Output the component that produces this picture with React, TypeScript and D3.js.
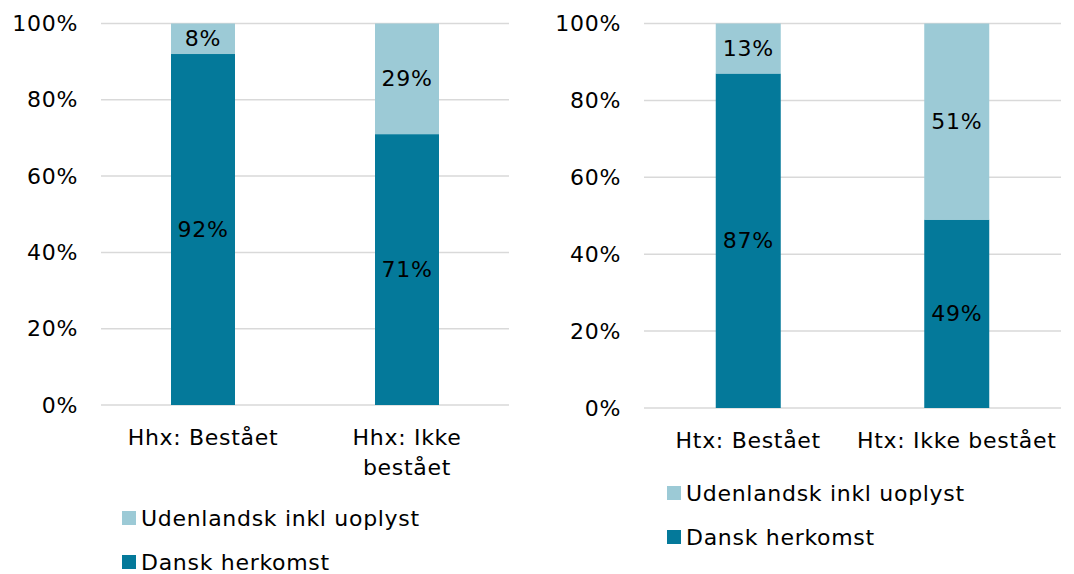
import React from "react";
import * as d3 from "d3";

// data
const seriesNames = ["Dansk herkomst", "Udenlandsk inkl uoplyst"];
const hhxCategories = [["Hhx: Bestået"], ["Hhx: Ikke", "bestået"]];
const hhxDansk = [92, 71];
const hhxUdenlandsk = [8, 29];
const htxCategories = [["Htx: Bestået"], ["Htx: Ikke bestået"]];
const htxDansk = [87, 49];
const htxUdenlandsk = [13, 51];
const yTicks = [0, 20, 40, 60, 80, 100];

const DARK = "#04799a";
const LIGHT = "#9ccad6";
const GRID = "#d9d9d9";
const FONT = "DejaVu Sans, Verdana, sans-serif";
const FS = 22;
const LS = 0.7;

type PanelProps = {
  cats: string[][];
  dansk: number[];
  udenl: number[];
  x0: number;
  x1: number;
  y0: number;
  y1: number;
  tickX: number;
  labelY: number;
  legX: number;
  legY: number;
  barW: number;
};

const Panel = ({ cats, dansk, udenl, x0, x1, y0, y1, tickX, labelY, legX, legY, barW }: PanelProps) => {
  const keys = cats.map((c) => c.join(" "));
  const x = d3.scaleBand().domain(keys).range([x0, x1]).padding(0);
  const y = d3.scaleLinear().domain([0, 100]).range([y0, y1]);

  const rows = keys.map((k, i) => ({ key: k, dansk: dansk[i], udenl: udenl[i] }));
  const stack = d3.stack<any>().keys(["dansk", "udenl"]);
  const series = stack(rows);
  const colors = [DARK, LIGHT];

  return (
    <g fontFamily={FONT} fontSize={FS} fill="#000" letterSpacing={LS}>
      {yTicks.map((t) => (
        <g key={t}>
          <line x1={x0} x2={x1} y1={y(t)} y2={y(t)} stroke={GRID} strokeWidth={1.5} />
          <text x={tickX} y={y(t)} textAnchor="end" dominantBaseline="central">
            {t}%
          </text>
        </g>
      ))}
      {series.map((s, si) =>
        s.map((d, i) => {
          const cx = x(keys[i])! + x.bandwidth() / 2;
          return (
            <g key={`${si}-${i}`}>
              <rect x={cx - barW / 2} y={y(d[1])} width={barW} height={y(d[0]) - y(d[1])} fill={colors[si]} />
              <text x={cx} y={(y(d[0]) + y(d[1])) / 2} textAnchor="middle" dominantBaseline="central">
                {`${d[1] - d[0]}%`}
              </text>
            </g>
          );
        })
      )}
      {cats.map((lines, i) => (
        <text key={i} textAnchor="middle">
          {lines.map((l, j) => (
            <tspan key={j} x={x(keys[i])! + x.bandwidth() / 2} y={labelY + j * 30} dominantBaseline="central">
              {l}
            </tspan>
          ))}
        </text>
      ))}
      {[1, 0].map((si, j) => (
        <g key={si} transform={`translate(${legX},${legY + j * 44})`}>
          <rect x={0} y={-7} width={14} height={14} fill={colors[si]} />
          <text x={19} y={0} dominantBaseline="central">
            {seriesNames[si]}
          </text>
        </g>
      ))}
    </g>
  );
};

export default function App() {
  return (
    <svg width={1074} height={574} style={{ position: "absolute", left: 0, top: 0, background: "#fff" }}>
      <Panel
        cats={hhxCategories}
        dansk={hhxDansk}
        udenl={hhxUdenlandsk}
        x0={101}
        x1={509}
        y0={405}
        y1={23.5}
        tickX={78}
        labelY={437}
        legX={122}
        legY={518}
        barW={64}
      />
      <Panel
        cats={htxCategories}
        dansk={htxDansk}
        udenl={htxUdenlandsk}
        x0={644}
        x1={1061}
        y0={408}
        y1={23.5}
        tickX={621}
        labelY={440}
        legX={667}
        legY={493}
        barW={65}
      />
    </svg>
  );
}
